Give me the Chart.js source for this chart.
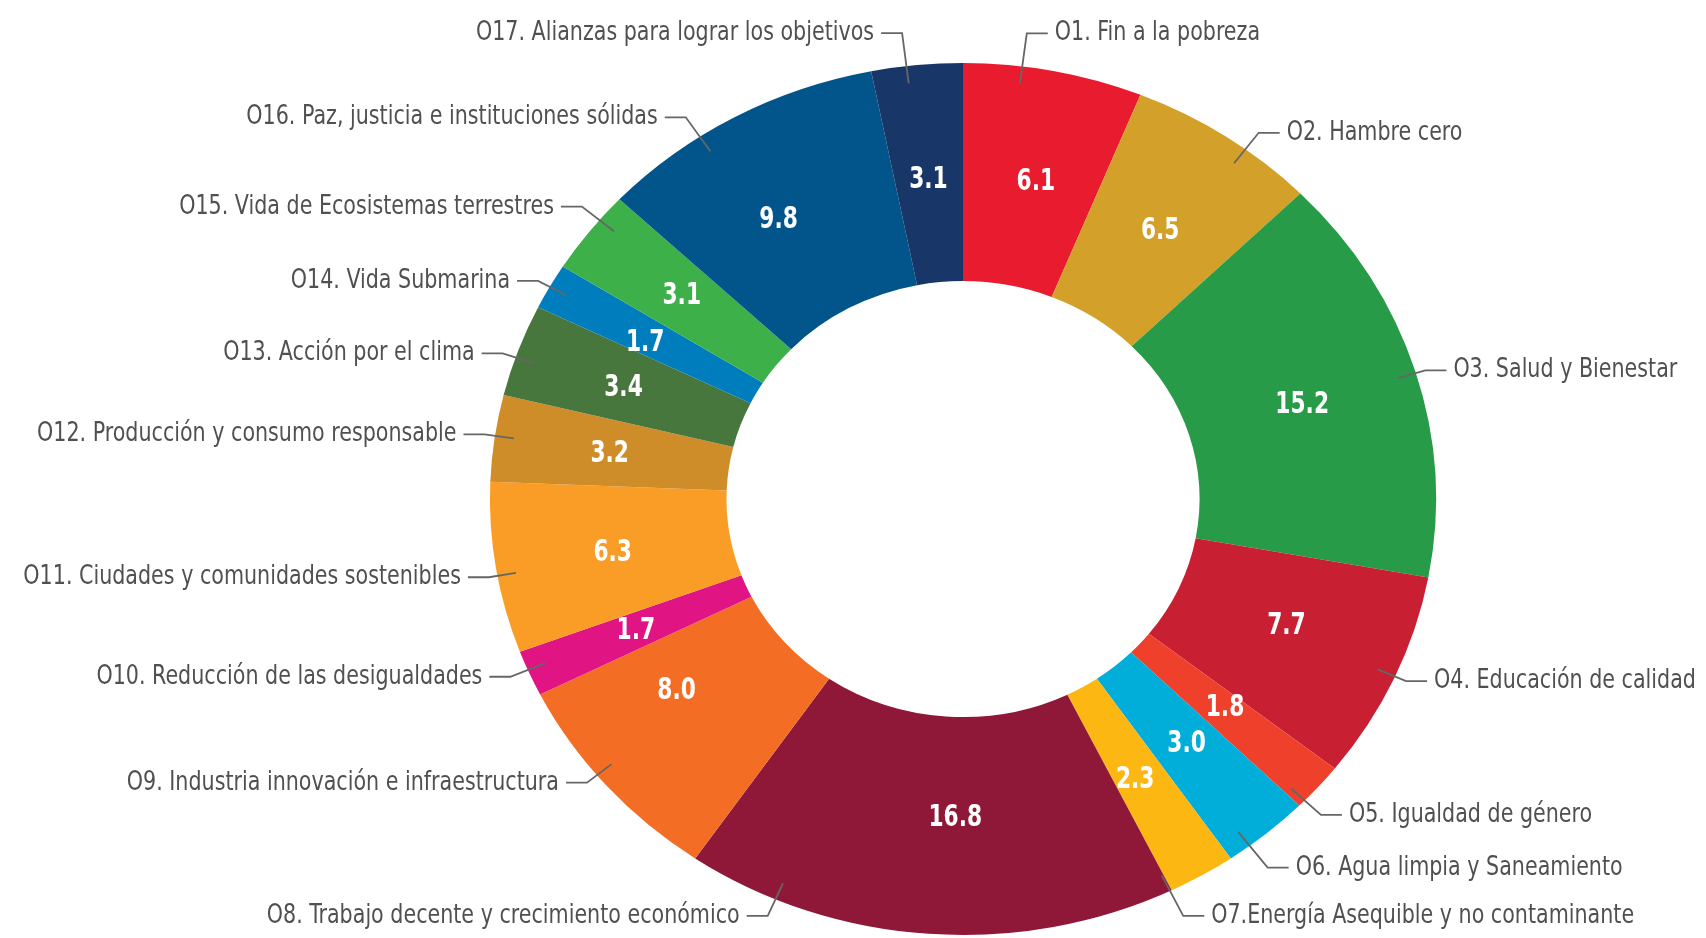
<!DOCTYPE html>
<html lang="es">
<head>
<meta charset="utf-8">
<title>Distribución por ODS</title>
<script src="https://cdn.jsdelivr.net/npm/chart.js@4.4.1/dist/chart.umd.min.js"></script>
<style>
  html, body { margin: 0; padding: 0; background: #fff; }
  #wrap { width: 1706px; height: 938px; }
</style>
</head>
<body>
<div id="wrap"><canvas id="odsChart" width="1706" height="938"></canvas></div>
<script>
const categories = [
  'O1. Fin a la pobreza',
  'O2. Hambre cero',
  'O3. Salud y Bienestar',
  'O4. Educación de calidad',
  'O5. Igualdad de género',
  'O6. Agua limpia y Saneamiento',
  'O7.Energía Asequible y no contaminante',
  'O8. Trabajo decente y crecimiento económico',
  'O9. Industria innovación e infraestructura',
  'O10. Reducción de las desigualdades',
  'O11. Ciudades y comunidades sostenibles',
  'O12. Producción y consumo responsable',
  'O13. Acción por el clima',
  'O14. Vida Submarina',
  'O15. Vida de Ecosistemas terrestres',
  'O16. Paz, justicia e instituciones sólidas',
  'O17. Alianzas para lograr los objetivos'
];
const values = [6.1, 6.5, 15.2, 7.7, 1.8, 3.0, 2.3, 16.8, 8.0, 1.7, 6.3, 3.2, 3.4, 1.7, 3.1, 9.8, 3.1];

const colors = [
  '#E81C2E', '#D3A029', '#279B48', '#C91F33', '#EF402B', '#00AED9',
  '#FDB713', '#8F1838', '#F36D25', '#E11484', '#F99D26', '#CF8D2A',
  '#48773E', '#007DBC', '#3EB049', '#02558B', '#183668'
];

// small shifts of the outside labels away from the plain radial spot
const labelNudge = [
  [-4, -12], [45, 18], [11, 7], [14, -8], [10, 10], [11, 14], [-5, 18],
  [-187, -44], [-26, -20], [-21, -7], [-7, 5], [-10, 0], [-17, 12],
  [-15, 7], [-13, -9], [-63, 23], [-40, -6]
];
// same for a few of the numbers inside the ring
const valueNudge = [
  [5, 4], [0, 4], [0, 2], [0, -8], [-4, -7], [-4, -6], [-7, -1],
  [18, -7], [-19, -23], [-2, 1], [0, 2], [-2, 1], [-6, 1],
  [-8, 3], [-1, -3], [-13, 7], [0, 6]
];

const SX = 1.085; // ring in the original is a little wider than tall
const FONT = "'Liberation Sans Narrow', 'DejaVu Sans Condensed', 'Arial Narrow', sans-serif";

// stretch only the slices horizontally, text stays normal
const stretch = {
  id: 'stretch',
  beforeDatasetsDraw(chart) {
    const ctx = chart.ctx;
    const cx = chart.getDatasetMeta(0).data[0].x;
    ctx.save();
    ctx.translate(cx, 0);
    ctx.scale(SX, 1);
    ctx.translate(-cx, 0);
  },
  afterDatasetsDraw(chart) {
    chart.ctx.restore();
  }
};

function narrowText(ctx, text, x, y, squeeze) {
  ctx.save();
  ctx.translate(x, y);
  ctx.scale(squeeze, 1);
  ctx.fillText(text, 0, 0);
  ctx.restore();
}

const calloutLabels = {
  id: 'calloutLabels',
  afterDraw(chart) {
    const ctx = chart.ctx;
    chart.getDatasetMeta(0).data.forEach((arc, i) => {
      const mid = (arc.startAngle + arc.endAngle) / 2;
      const ro = arc.outerRadius, ri = arc.innerRadius;
      const cx = arc.x, cy = arc.y;

      // value in the middle of the ring
      const rm = (ro + ri) / 2;
      ctx.save();
      ctx.fillStyle = '#ffffff';
      ctx.font = 'bold 31px ' + FONT;
      ctx.textAlign = 'center';
      ctx.textBaseline = 'middle';
      narrowText(ctx, values[i].toFixed(1),
        cx + Math.cos(mid) * rm * SX + valueNudge[i][0],
        cy + Math.sin(mid) * rm + valueNudge[i][1], 0.78);

      // outside label with leader line
      const right = Math.cos(mid) >= 0;
      const s = right ? 1 : -1;
      const tx = cx + Math.cos(mid) * ro * 1.06 * SX + labelNudge[i][0];
      const ty = cy + Math.sin(mid) * ro * 1.06 + labelNudge[i][1];
      const ex = tx - s * 28;
      const u = (ex - cx) / (ro * SX), v = (ty - cy) / ro;
      const n = Math.hypot(u, v);
      const ax = cx + u / n * 0.96 * ro * SX;
      const ay = cy + v / n * 0.96 * ro;

      ctx.strokeStyle = '#666666';
      ctx.lineWidth = 1.8;
      ctx.beginPath();
      ctx.moveTo(tx - s * 7, ty);
      ctx.lineTo(ex, ty);
      ctx.lineTo(ax, ay);
      ctx.stroke();

      ctx.fillStyle = '#505050';
      ctx.font = '27px ' + FONT;
      ctx.textAlign = right ? 'left' : 'right';
      narrowText(ctx, categories[i], tx, ty, 0.85);
      ctx.restore();
    });
  }
};

new Chart(document.getElementById('odsChart'), {
  type: 'doughnut',
  data: {
    labels: categories,
    datasets: [{
      data: values,
      backgroundColor: colors,
      borderWidth: 0
    }]
  },
  options: {
    responsive: false,
    devicePixelRatio: 1,
    animation: false,
    cutout: '50%',
    layout: { padding: { left: 220, right: 0, top: 63, bottom: 3 } },
    plugins: {
      legend: { display: false },
      tooltip: { enabled: false }
    }
  },
  plugins: [stretch, calloutLabels]
});
</script>
</body>
</html>
